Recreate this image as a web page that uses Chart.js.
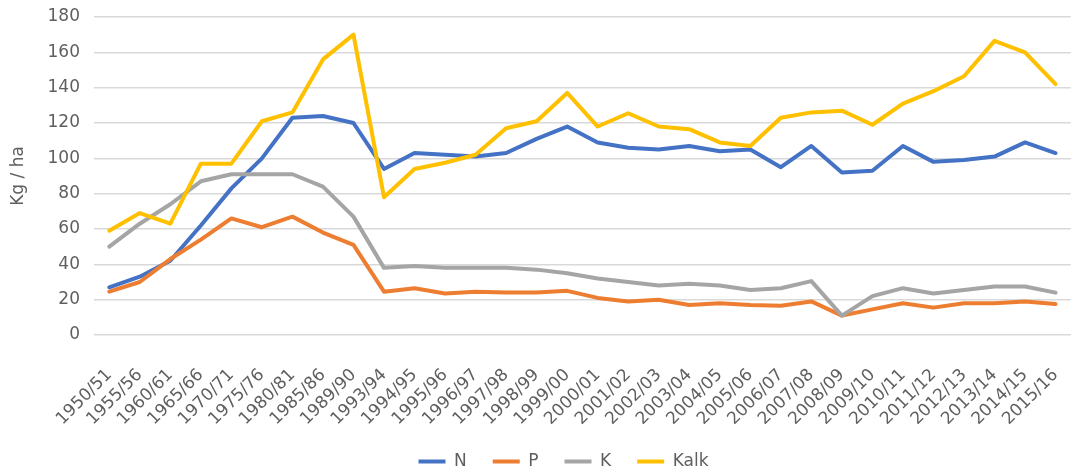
<!DOCTYPE html>
<html>
<head>
<meta charset="utf-8">
<script src="https://cdn.jsdelivr.net/npm/chart.js@4"></script>
<style>
  html, body { margin: 0; padding: 0; overflow: hidden; background: #ffffff; }
  canvas { display: block; }
</style>
</head>
<body>
<canvas id="chart" width="1092" height="480"></canvas>
<script>
// Seasons on the category axis
const seasons = [
  "1950/51", "1955/56", "1960/61", "1965/66", "1970/71", "1975/76", "1980/81", "1985/86",
  "1989/90", "1993/94", "1994/95", "1995/96", "1996/97", "1997/98", "1998/99", "1999/00",
  "2000/01", "2001/02", "2002/03", "2003/04", "2004/05", "2005/06", "2006/07", "2007/08",
  "2008/09", "2009/10", "2010/11", "2011/12", "2012/13", "2013/14", "2014/15", "2015/16"
];

// Nutrient use, kg per hectare
const nValues = [27, 33, 42, 62, 83, 100, 123, 124, 120, 94, 103, 102, 101, 103, 111, 118,
  109, 106, 105, 107, 104, 105, 95, 107, 92, 93, 107, 98, 99, 101, 109, 103];
const pValues = [24.5, 30, 43, 54, 66, 61, 67, 58, 51, 24.5, 26.5, 23.5, 24.5, 24, 24, 25,
  21, 19, 20, 17, 18, 17, 16.5, 19, 11, 14.5, 18, 15.5, 18, 18, 19, 17.5];
const kValues = [50, 63, 74, 87, 91, 91, 91, 84, 67, 38, 39, 38, 38, 38, 37, 35,
  32, 30, 28, 29, 28, 25.5, 26.5, 30.5, 11, 22, 26.5, 23.5, 25.5, 27.5, 27.5, 24];
const kalkValues = [59, 69, 63, 97, 97, 121, 126, 156, 170, 78, 94, 97.5, 102, 117, 121, 137,
  118, 125.5, 118, 116.5, 109, 107, 123, 126, 127, 119, 131, 138, 146.5, 166.5, 160, 142];

// Value axis ticks
const yMin = 0;
const yMax = 180;
const yStep = 20;

const textColor = "#5f5f5f";
const fontFamily = "'DejaVu Sans', sans-serif";

function series(label, data, color, order) {
  return {
    label: label,
    data: data,
    borderColor: color,
    backgroundColor: color,
    borderWidth: 4,
    pointRadius: 0,
    pointHoverRadius: 0,
    tension: 0,
    fill: false,
    borderJoinStyle: "round",
    borderCapStyle: "round",
    order: order
  };
}

// Nudges the centred legend row a little to the right
const legendShift = {
  id: "legendShift",
  afterLayout(chart) {
    if (chart.legend) {
      chart.legend.left += 18;
      chart.legend.right += 18;
    }
  }
};

new Chart(document.getElementById("chart"), {
  type: "line",
  data: {
    labels: seasons,
    datasets: [
      series("N", nValues, "#4472C4", 4),
      series("P", pValues, "#ED7D31", 3),
      series("K", kValues, "#A5A5A5", 2),
      series("Kalk", kalkValues, "#FFC000", 1)
    ]
  },
  plugins: [legendShift],
  options: {
    responsive: false,
    animation: false,
    layout: { padding: { top: 17, left: 0, right: 1, bottom: 0 } },
    plugins: {
      tooltip: { enabled: false },
      legend: {
        position: "bottom",
        labels: {
          color: textColor,
          font: { family: fontFamily, size: 17 },
          boxWidth: 27,
          boxHeight: 4,
          padding: 26,
          sort: (a, b) => a.datasetIndex - b.datasetIndex,
          generateLabels: (chart) => {
            const items = Chart.defaults.plugins.legend.labels.generateLabels(chart);
            items.forEach((it) => { it.lineWidth = 0; it.fillStyle = it.strokeStyle; });
            return items;
          }
        }
      }
    },
    scales: {
      x: {
        offset: true,
        grid: { display: false },
        border: { display: false },
        ticks: {
          color: textColor,
          font: { family: fontFamily, size: 17 },
          minRotation: 45,
          maxRotation: 45,
          autoSkip: false,
          padding: 22
        },
        afterFit: (scale) => { scale.height = 92; }
      },
      y: {
        min: yMin,
        max: yMax,
        grid: { color: "#D9D9D9", lineWidth: 1.5, drawTicks: false },
        border: { display: false },
        ticks: {
          stepSize: yStep,
          color: textColor,
          font: { family: fontFamily, size: 17 },
          padding: 14
        },
        title: {
          display: true,
          text: "Kg / ha",
          color: textColor,
          font: { family: fontFamily, size: 17 },
          padding: { top: 8, bottom: 0 }
        },
        afterFit: (scale) => {
          scale.width = 94;
          scale.paddingTop = 0;
          scale.paddingBottom = 0;
        }
      }
    }
  }
});
</script>
</body>
</html>
